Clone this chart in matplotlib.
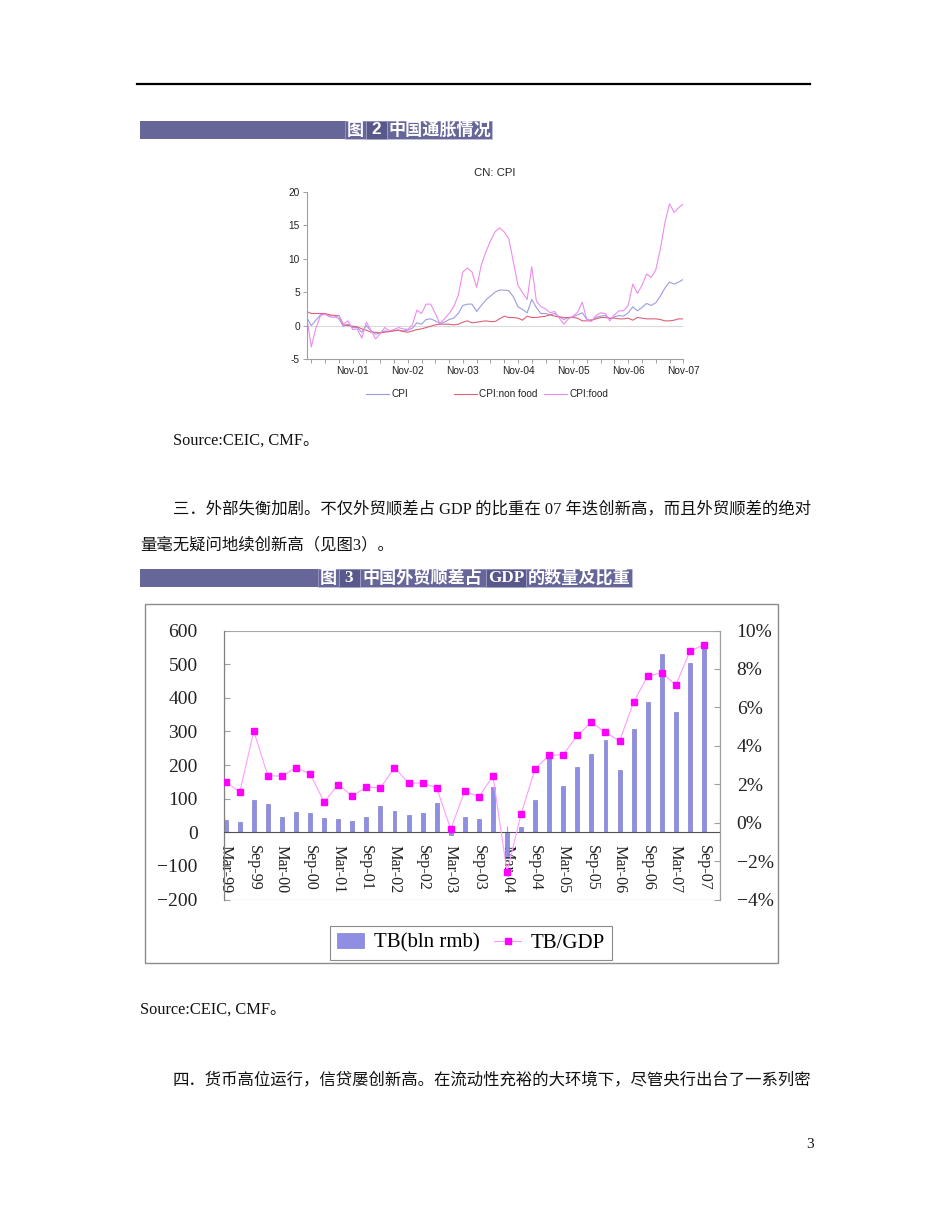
import matplotlib
matplotlib.use('Agg')
import matplotlib.pyplot as plt
from matplotlib.patches import Rectangle
from matplotlib.lines import Line2D
import numpy as np

# ---------------- data ----------------
# Figure 2: monthly CPI yoy (%), Jan-01 .. Nov-07
cpi = [1.2, 0.0, 0.8, 1.6, 1.7, 1.4, 1.5, 1.0, -0.1, 0.2, -0.3, -0.3,
       -1.0, 0.0, -0.8, -1.3, -1.1, -0.8, -0.9, -0.7, -0.7, -0.8, -0.7, -0.4,
       0.4, 0.2, 0.9, 1.0, 0.7, 0.3, 0.5, 0.9, 1.1, 1.8, 3.0, 3.2,
       3.2, 2.1, 3.0, 3.8, 4.4, 5.0, 5.3, 5.3, 5.2, 4.3, 2.8, 2.4,
       1.9, 3.9, 2.7, 1.8, 1.8, 1.6, 1.8, 1.3, 0.9, 1.2, 1.3, 1.6,
       1.9, 0.9, 0.8, 1.2, 1.4, 1.5, 1.0, 1.3, 1.5, 1.4, 1.9, 2.8,
       2.2, 2.7, 3.3, 3.0, 3.4, 4.4, 5.6, 6.5, 6.2, 6.5, 6.9]
cpi_nonfood = [2.1, 1.8, 1.8, 1.8, 1.8, 1.6, 1.5, 1.5, 0.1, 0.0, -0.1, -0.2,
               -0.5, -0.7, -1.0, -1.0, -1.1, -1.0, -0.9, -0.8, -0.7, -0.9, -1.0, -0.8,
               -0.6, -0.5, -0.3, -0.1, 0.1, 0.2, 0.2, 0.2, 0.1, 0.2, 0.5, 0.7,
               0.4, 0.5, 0.6, 0.7, 0.6, 0.6, 1.0, 1.4, 1.2, 1.2, 1.1, 0.8,
               1.4, 1.2, 1.2, 1.3, 1.4, 1.6, 1.4, 1.3, 1.2, 1.2, 1.2, 1.1,
               0.7, 0.7, 0.8, 1.0, 1.2, 1.2, 1.1, 1.1, 1.0, 1.0, 1.1, 0.8,
               1.2, 1.1, 1.0, 1.0, 1.0, 0.9, 0.7, 0.7, 0.8, 1.0, 1.0]
cpi_food = [1.3, -3.2, -0.4, 1.5, 1.7, 1.3, 1.2, 1.5, 0.2, 0.7, -0.6, -0.5,
            -1.9, 0.5, -0.7, -2.0, -1.2, -0.3, -0.8, -0.6, -0.3, -0.5, -0.6, 0.1,
            2.3, 1.8, 3.2, 3.2, 1.8, 0.3, 1.0, 1.8, 2.8, 4.5, 8.0, 8.6,
            8.0, 5.7, 9.0, 11.0, 12.6, 14.0, 14.6, 14.0, 13.0, 9.5, 6.0, 4.9,
            3.9, 8.8, 3.7, 2.8, 2.5, 1.9, 2.1, 1.1, 0.2, 1.0, 1.4, 2.0,
            3.5, 0.8, 0.6, 1.5, 1.9, 1.8, 0.7, 1.6, 2.2, 2.2, 3.0, 6.2,
            4.8, 6.0, 7.7, 7.2, 8.3, 11.4, 15.4, 18.2, 16.9, 17.6, 18.2]
cpi_xlabels = ['Nov-01', 'Nov-02', 'Nov-03', 'Nov-04', 'Nov-05', 'Nov-06', 'Nov-07']
cpi_yticks = [-5, 0, 5, 10, 15, 20]
cpi_series_names = ['CPI', 'CPI:non food', 'CPI:food']

# Figure 3: quarterly trade balance (bln rmb) and TB/GDP (%)
tb_quarters = ['Mar-99', 'Jun-99', 'Sep-99', 'Dec-99', 'Mar-00', 'Jun-00', 'Sep-00', 'Dec-00',
               'Mar-01', 'Jun-01', 'Sep-01', 'Dec-01', 'Mar-02', 'Jun-02', 'Sep-02', 'Dec-02',
               'Mar-03', 'Jun-03', 'Sep-03', 'Dec-03', 'Mar-04', 'Jun-04', 'Sep-04', 'Dec-04',
               'Mar-05', 'Jun-05', 'Sep-05', 'Dec-05', 'Mar-06', 'Jun-06', 'Sep-06', 'Dec-06',
               'Mar-07', 'Jun-07', 'Sep-07']
tb = [36, 31, 95, 84, 45, 60, 57, 42, 39, 33, 46, 77, 63, 50, 56, 87,
      -8, 45, 39, 134, -70, 15, 95, 228, 138, 194, 234, 273, 184, 306,
      386, 529, 359, 503, 550]
tb_gdp = [2.13, 1.59, 4.76, 2.43, 2.43, 2.86, 2.54, 1.07, 1.98, 1.39, 1.85, 1.81,
          2.86, 2.06, 2.06, 1.81, -0.34, 1.66, 1.33, 2.44, -2.56, 0.45, 2.81, 3.50,
          3.54, 4.54, 5.22, 4.70, 4.24, 6.27, 7.64, 7.80, 7.16, 8.91, 9.27]
tb_names = ['TB(bln rmb)', 'TB/GDP']

# ---------------- layout helpers ----------------
W, H = 950, 1230
fig = plt.figure(figsize=(9.5, 12.3), dpi=100)
fig.patch.set_facecolor('white')


def fx(x):
    return x / W


def fy(y):
    return 1 - y / H


def box(x0, y0, x1, y1):
    return [fx(x0), fy(y1), (x1 - x0) / W, (y1 - y0) / H]


SERIF_CJK = ['Liberation Serif', 'Noto Sans CJK SC']
CJK = ['Noto Sans CJK SC', 'DejaVu Sans']
SANS = ['Liberation Sans', 'DejaVu Sans']
SERIF = ['Liberation Serif', 'DejaVu Serif']
BAR_COL = '#666699'
CELL_EDGE = '#A4A4CC'

# top rule
fig.add_artist(Line2D([fx(137), fx(810)], [fy(84), fy(84)], color='black', lw=1.6))


def title_bar(x0, x1, y0, y1, cells, pieces):
    fig.add_artist(Rectangle((fx(x0), fy(y1)), (x1 - x0) / W, (y1 - y0) / H,
                             facecolor=BAR_COL, edgecolor='none'))
    for (cx0, cx1, fc) in cells:
        fig.add_artist(Rectangle((fx(cx0), fy(y1)), (cx1 - cx0) / W, (y1 - y0) / H,
                                 facecolor=fc, edgecolor=CELL_EDGE, lw=0.5))
    yc = (y0 + y1) / 2
    for (px, txt, fam) in pieces:
        fig.text(fx(px), fy(yc), txt, color='white', fontsize=12.3, fontweight='bold',
                 family=fam, ha='left', va='center')


# ---- title bar 1 ----
title_bar(140, 492, 121, 139,
          [(345, 366, 'none'), (366, 386.5, '#58588A'), (386.5, 492, 'none')],
          [(347, '图', CJK), (371, '2', SANS), (389, '中国通胀情况', CJK)])

# ---------------- chart 1: CN CPI ----------------
ax1 = fig.add_axes(box(306.7, 191.7, 683.3, 359))
m = np.arange(len(cpi))
ax1.plot(m, cpi, color='#9C9CE4', lw=0.8)
ax1.plot(m, cpi_nonfood, color='#E06078', lw=0.8)
ax1.plot(m, cpi_food, color='#EC8CEC', lw=0.8)
ax1.axhline(0, color='#DADADA', lw=0.8, zorder=0)
ax1.set_xlim(0, len(cpi) - 1)
ax1.set_ylim(-5, 20)
for s in ['top', 'right']:
    ax1.spines[s].set_visible(False)
for s in ['left', 'bottom']:
    ax1.spines[s].set_color('#A0A0A0')
    ax1.spines[s].set_linewidth(0.8)
ax1.set_xticks([10 + 12 * k for k in range(len(cpi_xlabels))])
ax1.set_xticklabels(cpi_xlabels)
ax1.set_xticks(np.arange(1, len(cpi), 3), minor=True)
ax1.set_yticks(cpi_yticks)
ax1.set_yticklabels([str(v) for v in cpi_yticks])
ax1.tick_params(axis='both', which='both', direction='out', length=3, width=0.7,
                color='#A0A0A0', labelsize=7.3, labelcolor='#222222', pad=2)
for lab in ax1.get_xticklabels() + ax1.get_yticklabels():
    lab.set_family(SANS)
ax1.set_title('CN: CPI', fontsize=8.2, family=SANS, color='#222222', pad=11.5)

# legend of chart 1 (manual, EViews style)
for (lx0, lx1, tx, col, name) in [(366, 389, 392, '#9C9CE4', cpi_series_names[0]),
                                  (454, 477, 479, '#E06078', cpi_series_names[1]),
                                  (544, 567, 569, '#EC8CEC', cpi_series_names[2])]:
    fig.add_artist(Line2D([fx(lx0), fx(lx1)], [fy(394), fy(394)], color=col, lw=0.8))
    fig.text(fx(tx), fy(394), name, fontsize=7.2, family=SANS, color='#222222',
             ha='left', va='center')

# ---------------- body text ----------------
BODY = 11.8
fig.text(fx(173), fy(441), 'Source:CEIC, CMF。', fontsize=BODY, family=SERIF_CJK,
         ha='left', va='center', color='#111111')
fig.text(fx(173), fy(509),
         '三．外部失衡加剧。不仅外贸顺差占 GDP 的比重在 07 年迭创新高，而且外贸顺差的绝对',
         fontsize=BODY, family=SERIF_CJK, ha='left', va='center', color='#111111')
fig.text(fx(140), fy(545), '量毫无疑问地续创新高（见图3）。', fontsize=BODY,
         family=SERIF_CJK, ha='left', va='center', color='#111111')

# ---- title bar 2 ----
title_bar(140, 632, 569, 587,
          [(318, 339, 'none'), (339, 360, '#58588A'), (360, 486, 'none'),
           (486, 526, '#58588A'), (526, 632, 'none')],
          [(320, '图', CJK), (344, '3', SERIF), (362, '中国外贸顺差占', CJK),
           (488, 'GDP', SERIF), (528, '的数量及比重', CJK)])

# ---------------- chart 2: trade balance ----------------
fig.add_artist(Rectangle((fx(145), fy(963)), (778 - 145) / W, (963 - 604) / H,
                         facecolor='none', edgecolor='#8C8C8C', lw=1.0))

ax2 = fig.add_axes(box(224, 630.5, 720, 899.5))
x = np.arange(len(tb))
bars = ax2.bar(x, tb, width=0.28, color='#8E8EE2', edgecolor='#6E6EC4', linewidth=0.4,
               zorder=2)
ax2.set_xlim(-0.12, len(tb) + 0.14)
ax2.set_ylim(-200, 600)
ax2.set_yticks(range(-200, 601, 100))
ax2.set_yticklabels([str(v).replace('-', '\u2212') for v in range(-200, 601, 100)])
ax2.spines['bottom'].set_position(('data', 0))
ax2.spines['bottom'].set_color('#505050')
ax2.spines['bottom'].set_linewidth(0.8)
ax2.spines['left'].set_color('#808080')
ax2.spines['left'].set_linewidth(0.9)
ax2.spines['top'].set_visible(False)
ax2.spines['right'].set_visible(False)
ax2.add_patch(Rectangle((0, 0), 1, 1, transform=ax2.transAxes, fill=False,
                        edgecolor='#A8A8A8', lw=0.8, zorder=0.5))
ax2.set_xticks(x[::2])
ax2.set_xticklabels(tb_quarters[::2], rotation=-90)
ax2.tick_params(axis='x', direction='in', length=4, color='#A8A8A8', pad=9.0,
                labelsize=11.6, labelcolor='#222222')
ax2.tick_params(axis='y', direction='in', length=4, color='#A0A0A0', pad=19,
                labelsize=14, labelcolor='#222222')
for lab in ax2.get_xticklabels() + ax2.get_yticklabels():
    lab.set_family(SERIF)

ax3 = ax2.twinx()
line, = ax3.plot(x, tb_gdp, color='#FF9CFF', lw=0.8, marker='s', ms=4.3,
                 mfc='#FF00FF', mec='#FF00FF', zorder=3)
ax3.set_ylim(-4, 10)
ax3.set_yticks(range(-4, 11, 2))
ax3.set_yticklabels([(f'{v}%').replace('-', '\u2212') for v in range(-4, 11, 2)])
for s in ['top', 'bottom', 'left']:
    ax3.spines[s].set_visible(False)
ax3.spines['right'].set_color('#A0A0A0')
ax3.spines['right'].set_linewidth(0.9)
ax3.tick_params(axis='y', direction='in', length=4, color='#A0A0A0', pad=12,
                labelsize=14, labelcolor='#222222')
for lab in ax3.get_yticklabels():
    lab.set_family(SERIF)

leg = fig.legend([bars, line], tb_names, loc='center',
                 bbox_to_anchor=(fx(471), fy(943)), ncol=2, frameon=True,
                 fancybox=False, edgecolor='#8C8C8C', framealpha=1,
                 prop={'family': SERIF, 'size': 15}, handlelength=1.3,
                 handleheight=0.7, columnspacing=0.7, handletextpad=0.45,
                 borderpad=0.35, borderaxespad=0)
leg.get_frame().set_linewidth(0.8)

# ---------------- lower text ----------------
fig.text(fx(140), fy(1010), 'Source:CEIC, CMF。', fontsize=BODY, family=SERIF_CJK,
         ha='left', va='center', color='#111111')
fig.text(fx(173), fy(1080),
         '四．货币高位运行，信贷屡创新高。在流动性充裕的大环境下，尽管央行出台了一系列密',
         fontsize=BODY, family=SERIF_CJK, ha='left', va='center', color='#111111')
fig.text(fx(806), fy(1145), '3', fontsize=11, family=SERIF, ha='left', va='center',
         color='#111111')

fig.savefig('out.png', dpi=100, facecolor='white')
